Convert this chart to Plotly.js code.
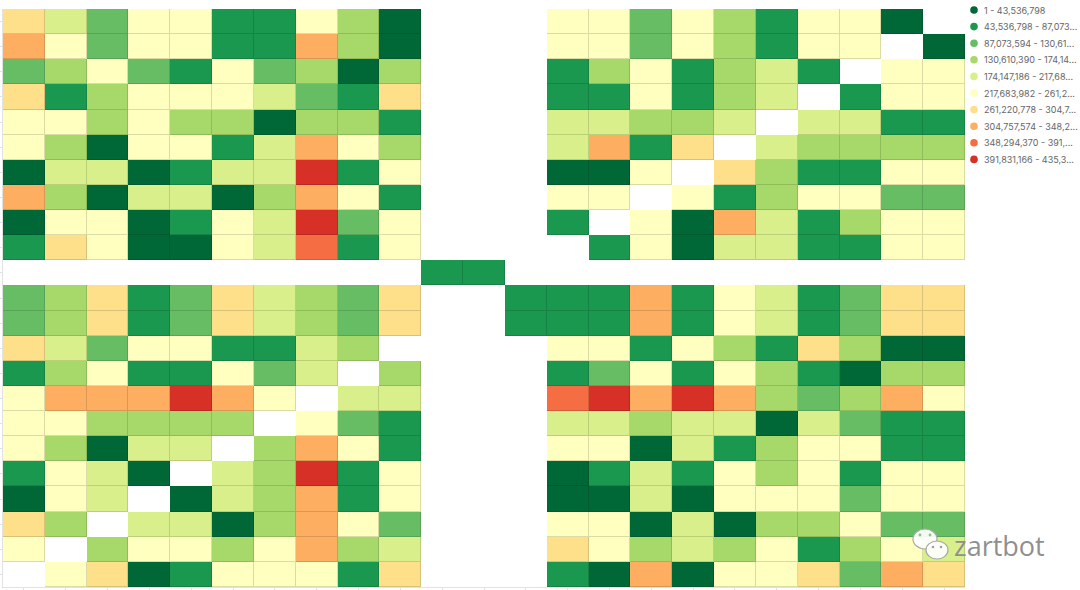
<!DOCTYPE html>
<html>
<head>
<meta charset="utf-8">
<script src="https://cdn.plot.ly/plotly-3.0.1.min.js"></script>
<style>
  html, body { margin: 0; padding: 0; background: #ffffff; }
  #chart { width: 1080px; height: 590px; }
</style>
</head>
<body>
<div id="chart"></div>
<script>
// ---------------- DATA ----------------
const colLabels = ["0","1","2","3","4","5","6","7","8","9","10","11","12","13","14","15","16","17","18","19","20","21","22"];
const rowLabels = ["0","1","2","3","4","5","6","7","8","9","10","11","12","13","14","15","16","17","18","19","20","21","22"];

const row00 = [280e6,190e6,105e6,232e6,236e6,61e6,64e6,245e6,152e6,18e6, null,null,null, 229e6,231e6,112e6,240e6,148e6,70e6,226e6,238e6,25e6,null];
const row01 = [325e6,241e6,103e6,233e6,237e6,62e6,66e6,322e6,154e6,19e6, null,null,null, 228e6,232e6,110e6,242e6,149e6,71e6,227e6,239e6,null,24e6];
const row02 = [115e6,162e6,248e6,120e6,58e6,255e6,100e6,145e6,30e6,158e6, null,null,null, 55e6,142e6,244e6,73e6,165e6,200e6,59e6,null,251e6,246e6];
const row03 = [270e6,77e6,167e6,223e6,235e6,247e6,208e6,95e6,49e6,277e6, null,null,null, 53e6,79e6,230e6,69e6,163e6,199e6,null,57e6,252e6,244e6];
const row04 = [225e6,258e6,141e6,243e6,157e6,170e6,15e6,146e6,151e6,84e6, null,null,null, 188e6,192e6,139e6,161e6,203e6,null,183e6,210e6,67e6,72e6];
const row05 = [239e6,155e6,9e6,236e6,249e6,63e6,186e6,312e6,257e6,168e6, null,null,null, 196e6,309e6,81e6,290e6,null,187e6,144e6,152e6,159e6,147e6];
const row06 = [33e6,178e6,207e6,22e6,74e6,195e6,212e6,412e6,48e6,224e6, null,null,null, 27e6,40e6,250e6,null,266e6,138e6,65e6,78e6,234e6,240e6];
const row07 = [331e6,143e6,31e6,201e6,182e6,13e6,172e6,337e6,226e6,80e6, null,null,null, 242e6,253e6,null,220e6,85e6,156e6,236e6,247e6,99e6,104e6];
const row08 = [26e6,231e6,249e6,38e6,51e6,256e6,198e6,429e6,122e6,233e6, null,null,null, 76e6,null,237e6,8e6,305e6,214e6,54e6,133e6,221e6,246e6];
const row09 = [70e6,268e6,222e6,3e6,41e6,245e6,193e6,372e6,56e6,259e6, null,null,null, null,82e6,254e6,36e6,175e6,216e6,60e6,75e6,225e6,232e6];
const row10 = [null,null,null,null,null,null,null,null,null,null, 58e6,64e6,null, null,null,null,null,null,null,null,null,null,null];
const row11 = [101e6,150e6,287e6,62e6,126e6,282e6,204e6,166e6,117e6,298e6, null,null, 68e6,71e6,73e6,327e6,66e6,243e6,191e6,59e6,109e6,275e6,300e6];
const row12 = [102e6,151e6,286e6,61e6,125e6,283e6,205e6,167e6,116e6,297e6, null,null, 69e6,70e6,74e6,328e6,67e6,242e6,190e6,60e6,108e6,276e6,301e6];
const row13 = [281e6,189e6,106e6,234e6,238e6,60e6,63e6,202e6,153e6,null, null,null,null, 230e6,233e6,57e6,241e6,150e6,72e6,279e6,164e6,14e6,21e6];
const row14 = [54e6,161e6,247e6,72e6,56e6,252e6,98e6,209e6,null,157e6, null,null,null, 52e6,124e6,227e6,70e6,249e6,142e6,61e6,29e6,135e6,169e6];
const row15 = [228e6,318e6,334e6,326e6,435367961,311e6,236e6,null,180e6,211e6, null,null,null, 366e6,419e6,339e6,402e6,316e6,148e6,111e6,155e6,320e6,258e6];
const row16 = [241e6,224e6,144e6,151e6,160e6,137e6,null,229e6,114e6,76e6, null,null,null, 184e6,197e6,153e6,206e6,213e6,17e6,194e6,121e6,57e6,63e6];
const row17 = [250e6,147e6,30e6,199e6,186e6,null,159e6,310e6,231e6,78e6, null,null,null, 235e6,244e6,11e6,188e6,65e6,171e6,222e6,253e6,68e6,74e6];
const row18 = [67e6,253e6,202e6,24e6,null,192e6,146e6,418e6,55e6,237e6, null,null,null, 16e6,80e6,209e6,50e6,228e6,162e6,245e6,73e6,240e6,232e6];
const row19 = [19e6,227e6,185e6,null,32e6,215e6,158e6,335e6,62e6,248e6, null,null,null, 10e6,37e6,180e6,23e6,255e6,233e6,239e6,119e6,226e6,250e6];
const row20 = [274e6,166e6,null,198e6,207e6,5e6,141e6,344e6,244e6,107e6, null,null,null, 248e6,231e6,28e6,201e6,20e6,145e6,168e6,236e6,113e6,97e6];
const row21 = [235e6,null,163e6,246e6,229e6,138e6,257e6,321e6,149e6,194e6, null,null,null, 289e6,237e6,156e6,193e6,140e6,243e6,53e6,170e6,251e6,211e6];
const row22 = [null,242e6,292e6,34e6,58e6,230e6,255e6,238e6,81e6,284e6, null,null,null, 77e6,39e6,313e6,7e6,247e6,234e6,271e6,115e6,333e6,293e6];

const cellValues = [row00,row01,row02,row03,row04,row05,row06,row07,row08,row09,row10,row11,
                    row12,row13,row14,row15,row16,row17,row18,row19,row20,row21,row22];

const zMin = 1;
const zMax = 435367962;
const binColors = ["#006837","#1a9850","#66bd63","#a6d96a","#d9ef8b","#ffffbf","#fee08b","#fdae61","#f46d43","#d73027"];
const legendLabels = [
  "1 - 43,536,798",
  "43,536,798 - 87,073...",
  "87,073,594 - 130,61...",
  "130,610,390 - 174,14...",
  "174,147,186 - 217,68...",
  "217,683,982 - 261,2...",
  "261,220,778 - 304,7...",
  "304,757,574 - 348,2...",
  "348,294,370 - 391,...",
  "391,831,166 - 435,3..."
];

// ---------------- STYLE HELPERS ----------------
function darken(hex, f) {
  const n = parseInt(hex.slice(1), 16);
  const r = Math.round(((n >> 16) & 255) * f);
  const g = Math.round(((n >> 8) & 255) * f);
  const b = Math.round((n & 255) * f);
  return "rgb(" + r + "," + g + "," + b + ")";
}
function stepScale(colors) {
  const cs = [];
  const k = colors.length;
  colors.forEach((c, i) => { cs.push([i / k, c]); cs.push([(i + 1) / k, c]); });
  return cs;
}

const W = 1080, H = 590;
const M = { l: 3, r: 115, t: 9, b: 3 };
const plotW = W - M.l - M.r, plotH = H - M.t - M.b;
const px2paperX = px => (px - M.l) / plotW;
const px2paperY = py => (H - M.b - py) / plotH;

const xIdx = colLabels.map((_, i) => i);
const yIdx = rowLabels.map((_, i) => i);

const borderTrace = {
  type: "heatmap", x: xIdx, y: yIdx, z: cellValues,
  zmin: zMin, zmax: zMax, colorscale: stepScale(binColors.map(c => darken(c, 0.86))),
  showscale: false, hoverinfo: "skip"
};
const cellTrace = {
  type: "heatmap", x: xIdx, y: yIdx, z: cellValues,
  zmin: zMin, zmax: zMax, colorscale: stepScale(binColors),
  xgap: 1, ygap: 1, showscale: false,
  hovertemplate: "row %{y}, col %{x}: %{z:,}<extra></extra>"
};

// legend (dots + text)
const legTop = 10, legStep = 16.6, dotX = 974, textX = 982;
const shapes = [];
const annotations = [];
legendLabels.forEach((lab, i) => {
  const py = legTop + i * legStep;
  shapes.push({
    type: "circle", xref: "paper", yref: "paper",
    xsizemode: "pixel", ysizemode: "pixel",
    xanchor: px2paperX(dotX), yanchor: px2paperY(py),
    x0: -3.8, x1: 3.8, y0: -3.8, y1: 3.8,
    fillcolor: binColors[i], line: { width: 0 }
  });
  annotations.push({
    xref: "paper", yref: "paper", x: px2paperX(textX), y: px2paperY(py),
    xanchor: "left", yanchor: "middle", showarrow: false,
    text: lab, font: { family: "Inter, Open Sans, sans-serif", size: 9, color: "#666666" }
  });
});

// watermark (WeChat-style icon + name)
function wmCircle(cx, cy, rx, ry, fill, lineColor, lw) {
  shapes.push({
    type: "circle", xref: "paper", yref: "paper", xsizemode: "pixel", ysizemode: "pixel",
    xanchor: px2paperX(cx), yanchor: px2paperY(cy), x0: -rx, x1: rx, y0: -ry, y1: ry,
    fillcolor: fill, line: { color: lineColor, width: lw }
  });
}
wmCircle(925, 539, 12, 10, "rgba(255,255,255,0.92)", "#a8a8a8", 1.2);
wmCircle(920, 535, 1.4, 1.4, "#8fbf8f", "#8fbf8f", 0);
wmCircle(930, 535, 1.4, 1.4, "#8fbf8f", "#8fbf8f", 0);
wmCircle(937, 550, 11, 9, "rgba(255,255,255,0.92)", "#a8a8a8", 1.2);
wmCircle(933, 547, 1.3, 1.3, "#a0a0a0", "#a0a0a0", 0);
wmCircle(941, 547, 1.3, 1.3, "#a0a0a0", "#a0a0a0", 0);
annotations.push({
  xref: "paper", yref: "paper", x: px2paperX(952), y: px2paperY(545),
  xanchor: "left", yanchor: "middle", showarrow: false,
  text: "zartbot", font: { family: "Open Sans, sans-serif", size: 27, color: "#8f8f8f" }
});

const layout = {
  width: W, height: H,
  margin: M,
  paper_bgcolor: "#ffffff", plot_bgcolor: "#ffffff",
  showlegend: false,
  xaxis: {
    range: [-0.5, 22.5], tickvals: xIdx, ticktext: colLabels, showticklabels: false,
    ticks: "outside", ticklen: 5, tickcolor: "#e2e2e2", showline: true, linecolor: "#e2e2e2",
    showgrid: false, zeroline: false, fixedrange: true
  },
  yaxis: {
    range: [22.5, -0.5], tickvals: yIdx, ticktext: rowLabels, showticklabels: false,
    ticks: "outside", ticklen: 3, tickcolor: "#e2e2e2", showline: true, linecolor: "#e2e2e2",
    showgrid: false, zeroline: false, fixedrange: true
  },
  shapes: shapes,
  annotations: annotations
};

Plotly.newPlot("chart", [borderTrace, cellTrace], layout, { displayModeBar: false, staticPlot: true });
</script>
</body>
</html>
